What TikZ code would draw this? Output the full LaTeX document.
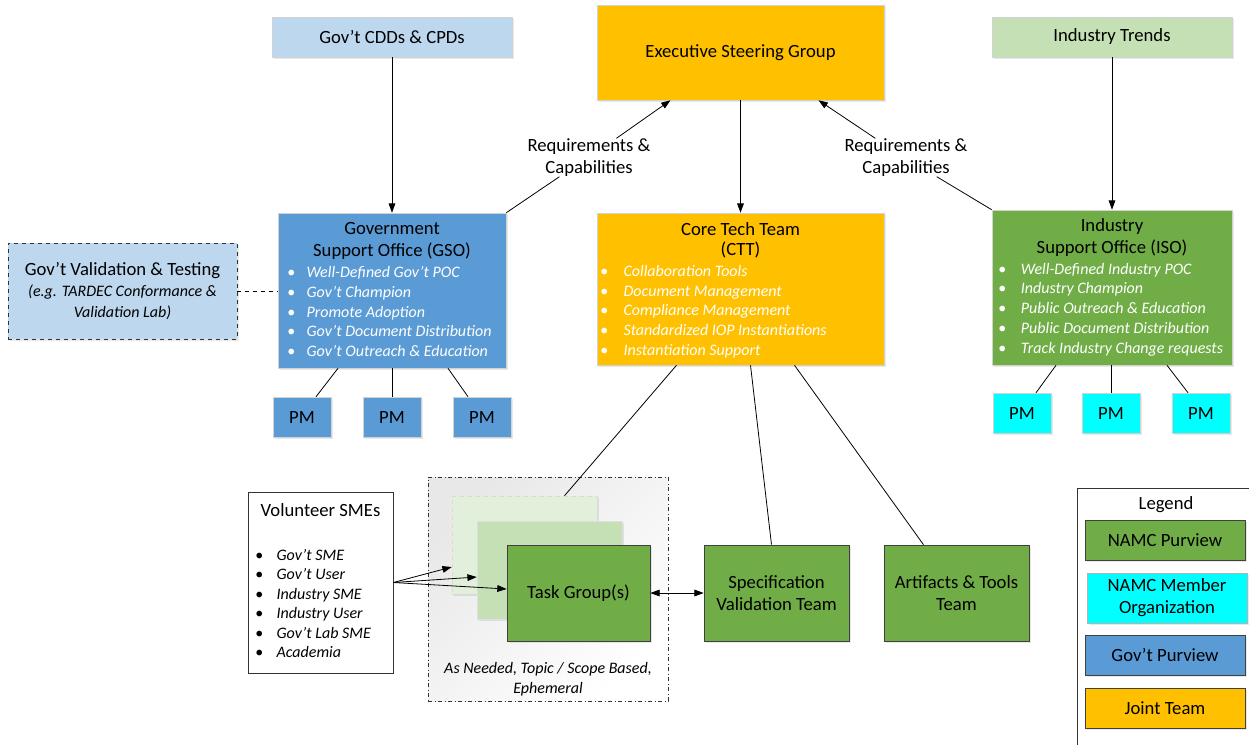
\documentclass[tikz,border=0pt]{standalone}
\usepackage{fontspec}
\setmainfont{Carlito}
\usepackage{xcolor}
\usepackage{tikz}
\usetikzlibrary{arrows.meta,calc,shadows}
\definecolor{joint}{HTML}{FFC000}
\definecolor{govblue}{HTML}{5B9BD5}
\definecolor{namcgreen}{HTML}{70AD47}
\definecolor{member}{HTML}{00FFFF}
\definecolor{govlight}{HTML}{BDD7EE}
\definecolor{indlight}{HTML}{C5E0B4}
\definecolor{tglight}{HTML}{E2EFDA}
\newcommand{\bl}[2][16pt]{\makebox[#1][l]{\upshape\textbullet}#2}

\begin{document}
\begin{tikzpicture}[x=0.75pt, y=-0.75pt, font=\fontsize{14}{16.5}\selectfont,
  box/.style={draw=gray!35, line width=0.4pt, inner sep=0pt,
    drop shadow={opacity=0.18, shadow xshift=1.5pt, shadow yshift=-1.5pt}},
  darkbox/.style={box, draw=black!75, line width=0.5pt},
  pmbox/.style={box, minimum width=43.5pt, minimum height=30pt},
  legbox/.style={darkbox, minimum width=120pt, minimum height=30pt, align=center},
  title/.style={align=center, inner sep=0pt},
  blist/.style={align=left, text=white, inner sep=0pt, anchor=west,
    font=\fontsize{12}{14.8}\selectfont\itshape},
  link/.style={line width=0.6pt},
  arr/.style={link, -{Triangle[length=7pt, width=5pt]}},
  dblarr/.style={link, {Triangle[length=7pt, width=5pt]}-{Triangle[length=7pt, width=5pt]}}]
  \useasboundingbox (0,0) rectangle (1249,744);

  \node[box, fill=govlight, minimum width=180pt, minimum height=30pt] (cdd) at (392,37) {Gov't CDDs \& CPDs};
  \node[box, fill=joint, minimum width=215.25pt, minimum height=71.25pt] (esg) at (740.5,52.5) {Executive Steering Group};
  \node[box, fill=indlight, minimum width=180pt, minimum height=30pt] (trends) at (1112,37) {Industry Trends};

  \node[title] (req1) at (589,157.5) {Requirements \&\\Capabilities};
  \node[title] (req2) at (906,157.5) {Requirements \&\\Capabilities};

  \node[box, fill=govblue, minimum width=171pt, minimum height=116.25pt] (gso) at (392,290.5) {};
  \node[title] (gsot) at (392,241) {Government\\Support Office (GSO)};
  \node[blist] (gsol) at (287,311.5) {\bl[14.5pt]{Well-Defined Gov't POC}\\\bl[14.5pt]{Gov't Champion}\\\bl[14.5pt]{Promote Adoption}\\\bl[14.5pt]{Gov't Document Distribution}\\\bl[14.5pt]{Gov't Outreach \& Education}};

  \node[box, fill=joint, minimum width=215.25pt, minimum height=114pt] (ctt) at (740.5,289) {};
  \node[title, font=\fontsize{14}{15}\selectfont] (cttt) at (740.5,240) {Core Tech Team\\(CTT)};
  \node[blist] (cttl) at (600,311.5) {\bl[17.5pt]{Collaboration Tools}\\\bl[17.5pt]{Document Management}\\\bl[17.5pt]{Compliance Management}\\\bl[17.5pt]{Standardized IOP Instantiations}\\\bl[17.5pt]{Instantiation Support}};

  \node[box, fill=namcgreen, minimum width=180pt, minimum height=116.25pt] (iso) at (1112,287.5) {};
  \node[title] (isot) at (1112,237.5) {Industry\\Support Office (ISO)};
  \node[blist] (isol) at (998,309.5) {\bl[17pt]{Well-Defined Industry POC}\\\bl[17pt]{Industry Champion}\\\bl[17pt]{Public Outreach \& Education}\\\bl[17pt]{Public Document Distribution}\\\bl[17pt]{Track Industry Change requests}};

  \node[box, fill=govlight, draw=black!80, dashed, minimum width=171.75pt, minimum height=72pt, align=center, font=\fontsize{14}{15.5}\selectfont] (govval) at (122.5,291) {Gov't Validation \& Testing\\{\fontsize{12}{15}\selectfont\itshape (e.g. TARDEC Conformance \&}\\{\fontsize{12}{15}\selectfont\itshape Validation Lab)}};

  \node[pmbox, fill=govblue] (gpm1) at (302,417) {PM};
  \node[pmbox, fill=govblue] (gpm2) at (392,417) {PM};
  \node[pmbox, fill=govblue] (gpm3) at (482,417) {PM};
  \node[pmbox, fill=member] (ipm1) at (1022,413) {PM};
  \node[pmbox, fill=member] (ipm2) at (1111,413) {PM};
  \node[pmbox, fill=member] (ipm3) at (1201,413) {PM};

  \node[draw=black!80, line width=0.5pt, fill=white, minimum width=108.75pt, minimum height=135.75pt, inner sep=0pt] (vol) at (320.5,582.5) {};
  \node[title] (volt) at (320.5,510) {Volunteer SMEs};
  \node[blist, text=black, font=\fontsize{12}{14.6}\selectfont\itshape] (voll) at (255,603.5) {\bl[16pt]{Gov't SME}\\\bl[16pt]{Gov't User}\\\bl[16pt]{Industry SME}\\\bl[16pt]{Industry User}\\\bl[16pt]{Gov't Lab SME}\\\bl[16pt]{Academia}};

  \node[draw=black!80, line width=0.5pt, dash dot, top color=black!9, bottom color=white, shading angle=45, minimum width=180pt, minimum height=168pt, inner sep=0pt] (tgzone) at (548,589) {};
  \node[title, font=\fontsize{12}{15}\selectfont\itshape] (tgnote) at (548,679) {As Needed, Topic / Scope Based,\\Ephemeral};
  \node[box, dashed, draw=gray!30, fill=tglight, minimum width=108.75pt, minimum height=73.5pt] (tg1) at (524.5,545) {};
  \node[box, draw=gray!25, fill=indlight, minimum width=108.75pt, minimum height=73.5pt] (tg2) at (549.5,570) {};
  \node[darkbox, fill=namcgreen, minimum width=107.25pt, minimum height=72pt] (tg) at (578.5,593) {Task Group(s)};

  \node[darkbox, fill=namcgreen, minimum width=108.75pt, minimum height=72pt, align=center, font=\fontsize{14}{17}\selectfont] (svt) at (776.5,593) {Specification\\Validation Team};
  \node[darkbox, fill=namcgreen, minimum width=108.75pt, minimum height=72pt, align=center, font=\fontsize{14}{17}\selectfont] (atd) at (956.5,593) {Artifacts \& Tools\\Team};

  \node[draw=black!80, line width=0.5pt, minimum width=142pt, minimum height=210pt, anchor=north west, inner sep=0pt] (legend) at (1076.5,487.5) {};
  \node[title] (legt) at (1166,505) {Legend};
  \node[legbox, fill=namcgreen] (leg1) at (1165,540) {NAMC Purview};
  \node[legbox, draw=gray!60, fill=member, minimum height=37.5pt] (leg2) at (1167,598) {NAMC Member\\Organization};
  \node[legbox, fill=govblue] (leg3) at (1165,655) {Gov't Purview};
  \node[legbox, fill=joint] (leg4) at (1165,708) {Joint Team};

  \draw[arr] (cdd) -- (gso);
  \draw[arr] (trends) -- (iso);
  \draw[arr] (esg) -- (ctt);
  \draw[link] (gso.north east) -- (req1.213);
  \draw[arr] (req1.35) -- ($(esg.south)+(-70,0)$);
  \draw[link] (iso.north west) -- (req2.-32);
  \draw[arr] (req2.148) -- ($(esg.south)+(78,0)$);
  \draw[link, dashed] (govval.east) -- (govval.east -| gso.west);
  \draw[link] ($(gso.south)+(-54,0)$) -- ($(gpm1.north)+(14,0)$);
  \draw[link] (gpm2) -- (gso);
  \draw[link] ($(gso.south)+(56,0)$) -- ($(gpm3.north)+(-14,0)$);
  \draw[link] ($(iso.south)+(-56,0)$) -- ($(ipm1.north)+(14,0)$);
  \draw[link] (ipm2.north) -- (ipm2.north |- iso.south);
  \draw[link] ($(iso.south)+(55,0)$) -- ($(ipm3.north)+(-13,0)$);
  \draw[link] ($(ctt.south)+(-64,0)$) -- ($(tg1.north)+(40,0)$);
  \draw[link] ($(ctt.south)+(10,0)$) -- ($(svt.north)+(-5,0)$);
  \draw[link] ($(ctt.south)+(54,0)$) -- ($(atd.north)+(-33,0)$);
  \draw[arr] (vol.east) -- ($(tg1.west)+(0,22)$);
  \draw[arr] (vol.east) -- ($(tg2.west)+(0,7)$);
  \draw[arr] (vol.east) -- ($(tg.west)+(0,-4)$);
  \draw[dblarr] (tg) -- (svt);
\end{tikzpicture}
\end{document}
